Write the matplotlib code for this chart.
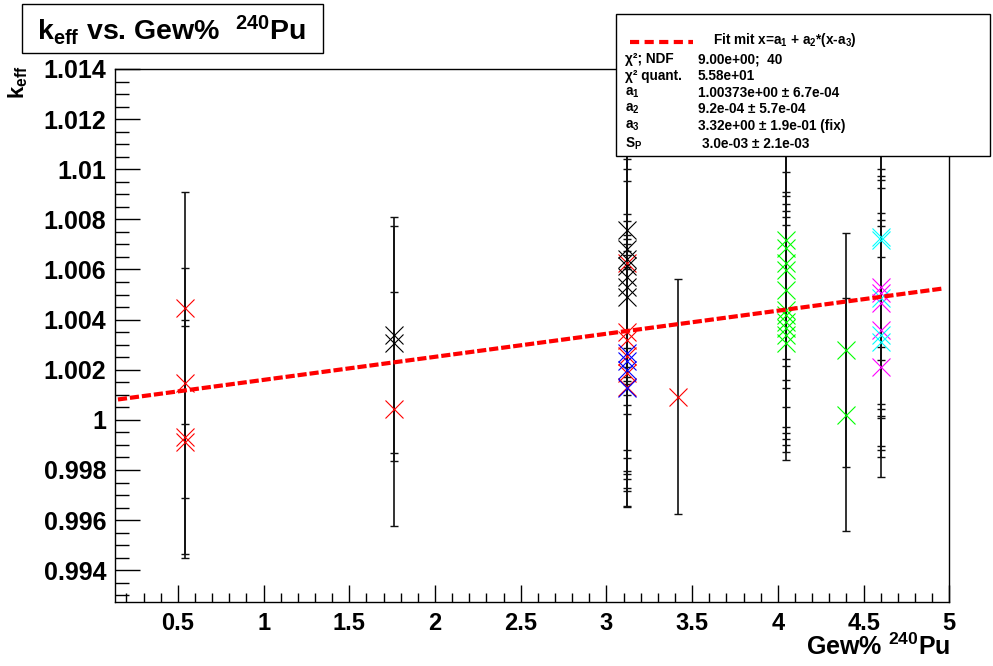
import numpy as np
import matplotlib
matplotlib.use("Agg")
import matplotlib.pyplot as plt
from matplotlib.patches import Rectangle
from matplotlib.lines import Line2D
from matplotlib.ticker import MultipleLocator, FuncFormatter

plt.rcParams['font.family'] = ['Liberation Sans', 'DejaVu Sans']
plt.rcParams['font.weight'] = 'bold'
plt.rcParams['mathtext.fontset'] = 'custom'
plt.rcParams['mathtext.rm'] = 'Liberation Sans:bold'
plt.rcParams['mathtext.it'] = 'Liberation Sans:bold'
plt.rcParams['mathtext.bf'] = 'Liberation Sans:bold'
plt.rcParams['mathtext.default'] = 'regular'

# ---------------- data ----------------
red_x = [0.54, 0.54, 0.54, 0.54, 1.76, 3.12, 3.12, 3.12, 3.12, 3.12, 3.12, 3.42]
red_y = [1.00447, 1.00148, 0.99932, 0.99912, 1.00044, 1.00626, 1.00350, 1.00320,
         1.00253, 1.00188, 1.00133, 1.00093]
red_err = [0.00464, 0.00458, 0.00467, 0.00462, 0.00468, 0.00470, 0.00470, 0.00472,
           0.00468, 0.00470, 0.00475, 0.00470]

black_x = [1.76, 1.76, 3.12, 3.12, 3.12, 3.12, 3.12, 3.12, 3.12]
black_y = [1.00338, 1.00305, 1.00758, 1.00680, 1.00640, 1.00615, 1.00570, 1.00530, 1.00490]
black_err = [0.00470, 0.00470, 0.00470, 0.00470, 0.00468, 0.00472, 0.00470, 0.00470, 0.00465]

blue_x = [3.12, 3.12, 3.12, 3.12]
blue_y = [1.00267, 1.00233, 1.00200, 1.00128]
blue_err = [0.00470, 0.00468, 0.00472, 0.00474]

green_x = [4.05, 4.05, 4.05, 4.05, 4.05, 4.05, 4.05, 4.05, 4.05, 4.05, 4.05, 4.40, 4.40]
green_y = [1.00718, 1.00686, 1.00626, 1.00598, 1.00520, 1.00440, 1.00420, 1.00392,
           1.00366, 1.00340, 1.00307, 1.00279, 1.00020]
green_err = [0.00475, 0.00470, 0.00468, 0.00470, 0.00470, 0.00470, 0.00472, 0.00470,
             0.00468, 0.00470, 0.00469, 0.00468, 0.00465]

magenta_x = [4.60, 4.60, 4.60, 4.60, 4.60]
magenta_y = [1.00532, 1.00507, 1.00467, 1.00359, 1.00211]
magenta_err = [0.00470, 0.00465, 0.00460, 0.00465, 0.00440]

cyan_x = [4.60, 4.60, 4.60, 4.60, 4.60]
cyan_y = [1.00728, 1.00718, 1.00487, 1.00339, 1.00312]
cyan_err = [0.00438, 0.00478, 0.00470, 0.00460, 0.00460]

# fit parameters
a1, a2, a3 = 1.00373, 9.2e-4, 3.32
fit_range = [0.15, 4.97]

legend_labels = ["χ²; NDF", "χ² quant.", "a$_1$", "a$_2$", "a$_3$", "S$_P$"]
legend_values = ["9.00e+00;  40", "5.58e+01", "1.00373e+00 ± 6.7e-04",
                 "9.2e-04 ± 5.7e-04", "3.32e+00 ± 1.9e-01 (fix)", "3.0e-03 ± 2.1e-03"]

x_limits = [0.13, 5.0]
y_limits = [0.99272, 1.014]

# ---------------- figure ----------------
W, H = 993, 666
fig = plt.figure(figsize=(W / 100, H / 100), dpi=100)

def fx(px):
    return px / W

def fy(py):
    return 1 - py / H

ax = fig.add_axes([fx(114.5), fy(602.3), fx(949.3) - fx(114.5), fy(69) - fy(602.3)])
ax.set_xlim(*x_limits)
ax.set_ylim(*y_limits)

series = [(red_x, red_y, red_err, '#ff0000'),
          (black_x, black_y, black_err, '#000000'),
          (blue_x, blue_y, blue_err, '#0000ff'),
          (green_x, green_y, green_err, '#00ff00'),
          (magenta_x, magenta_y, magenta_err, '#ff00ff'),
          (cyan_x, cyan_y, cyan_err, '#00ffff')]

for xs, ys, es, c in series:
    ax.errorbar(xs, ys, yerr=es, fmt='none', ecolor='#111111', elinewidth=1.2,
                capsize=2.6, capthick=1.0, zorder=2)
for xs, ys, es, c in series:
    ax.plot(xs, ys, linestyle='none', marker='x', markersize=13.5,
            markeredgewidth=0.8, color=c, zorder=3)

xf = np.linspace(fit_range[0], fit_range[1], 200)
yf = a1 + a2 * (xf - a3)
ax.plot(xf, yf, color='#ff0000', linewidth=3.0, linestyle=(0, (2.2, 0.7)),
        dash_capstyle='butt', zorder=5)

# ticks
ax.xaxis.set_major_locator(MultipleLocator(0.5))
ax.xaxis.set_minor_locator(MultipleLocator(0.1))
ax.yaxis.set_major_locator(MultipleLocator(0.002))
ax.yaxis.set_minor_locator(MultipleLocator(0.0005))
ax.xaxis.set_major_formatter(FuncFormatter(lambda v, p: f"{v:g}"))
ax.yaxis.set_major_formatter(FuncFormatter(lambda v, p: f"{round(v, 6):g}"))
ax.tick_params(axis='both', which='both', direction='in', top=False, right=False,
               color='black', width=1.0)
ax.tick_params(axis='y', which='major', length=18, labelsize=18, pad=6)
ax.tick_params(axis='y', which='minor', length=10)
ax.tick_params(axis='x', which='major', length=12, labelsize=17, pad=7)
ax.tick_params(axis='x', which='minor', length=6.5)
for lab in ax.get_xticklabels() + ax.get_yticklabels():
    lab.set_fontweight('bold')
for s in ax.spines.values():
    s.set_linewidth(1.0)

# axis titles
fig.text(fx(18), fy(82), r"k$_{eff}$", rotation=90, ha='center', va='center',
         fontsize=16, fontweight='bold')
fig.text(fx(950), fy(655), r"Gew% $^{240}$Pu", ha='right', va='baseline',
         fontsize=18, fontweight='bold')

# title box
fig.add_artist(Rectangle((fx(22), fy(53)), fx(323) - fx(22), fy(4) - fy(53),
                         transform=fig.transFigure, facecolor='white',
                         edgecolor='black', linewidth=1.0, zorder=4))
fig.text(fx(171), fy(30), r"k$_{eff}$ vs. Gew%  $^{240}$Pu", ha='center', va='center',
         fontsize=20.5, fontweight='bold', zorder=5)

# legend / stats box
fig.add_artist(Rectangle((fx(616), fy(156)), fx(990) - fx(616), fy(14) - fy(156),
                         transform=fig.transFigure, facecolor='white',
                         edgecolor='black', linewidth=1.0, zorder=6))
fig.add_artist(Line2D([fx(630), fx(693)], [fy(41.5), fy(41.5)], transform=fig.transFigure,
                      color='#ff0000', linewidth=3.0, linestyle=(0, (2.2, 1.3)),
                      dash_capstyle='butt', zorder=7))
fig.text(fx(713), fy(40), r"Fit mit x=a$_1$ + a$_2$*(x-a$_3$)", ha='left', va='center',
         fontsize=9.8, fontweight='bold', zorder=7)
row_y = [59, 76, 93, 109, 126, 144]
for i, (lab, val) in enumerate(zip(legend_labels, legend_values)):
    fig.text(fx(625), fy(row_y[i]), lab, ha='left', va='center', fontsize=9.8,
             fontweight='bold', zorder=7)
    xv = 702 if i == 5 else 698
    fig.text(fx(xv), fy(row_y[i]), val, ha='left', va='center', fontsize=9.8,
             fontweight='bold', zorder=7)

fig.savefig("out.png", dpi=100)
